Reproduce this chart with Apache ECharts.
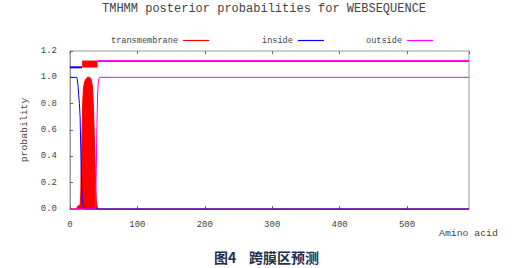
<!DOCTYPE html>
<html>
<head>
<meta charset="utf-8">
<script src="https://cdn.jsdelivr.net/npm/echarts@6/dist/echarts.min.js"></script>
<style>html,body{margin:0;padding:0;background:#fff}#c{width:514px;height:268px}</style>
</head>
<body>
<div id="c"></div>
<script>
const seqLength = 592;
const xTicks = [0, 100, 200, 300, 400, 500];
// posterior probabilities [residue, probability]
const transmembrane = [[0,0],[10,0],[11,0.02],[15,0.03],[16,0.12],[17,0.38],[18,0.62],[19,0.82],[20,0.92],[22,0.97],[24,0.99],[26,1.0],[29,1.0],[31,0.99],[33,0.94],[34,0.87],[35,0.74],[36,0.56],[37,0.38],[38,0.18],[39,0.06],[40,0.02],[41,0],[592,0]];
const inside = [[0,1.0],[10,1.0],[11,0.98],[12,0.93],[13,0.86],[14,0.8],[15,0.7],[16,0.45],[17,0.2],[18,0.08],[19,0.04],[21,0.01],[23,0],[592,0]];
const outside = [[0,0],[37,0],[38,0.05],[39,0.3],[40,0.65],[41,0.88],[42,0.96],[43,0.99],[44,1.0],[592,1.0]];
// predicted topology bars at the top
const insideBar = [[0,1.076],[18,1.076]];
const tmBar = [[18,1.101],[41,1.101]];
const outsideBar = [[41,1.124],[592,1.124]];

const RED = '#ff0000', BLUE = '#0000ff', MAG = '#ff00ff';
const mono = 'Liberation Mono';
const chart = echarts.init(document.getElementById('c'), null, {renderer:'svg'});
function lg(name, left) {
  return {data:[name], left:left, top:36, padding:0, align:'right', icon:'rect', itemWidth:26, itemHeight:1.2,
    selectedMode:false, textStyle:{fontFamily:mono, fontSize:8.6, color:'#444'}};
}
function ln(name, data, color, width, z, area) {
  const s = {name:name, type:'line', data:data, symbol:'none', showSymbol:false, smooth:false, clip:false,
    color:color, lineStyle:{width:width, color:color, cap:'butt'}, z:z};
  if (area) s.areaStyle = {color:color, opacity:1};
  return s;
}
chart.setOption({
  animation:false,
  title:[
    {text:'TMHMM posterior probabilities for WEBSEQUENCE', left:102, top:3, padding:0,
     textStyle:{fontFamily:mono, fontSize:12, fontWeight:'normal', color:'#444'}},
    {text:'图4    跨膜区预测', left:214, top:250, padding:0,
     textStyle:{fontFamily:'Noto Sans CJK SC', fontSize:14, fontWeight:'bold', color:'#1f2f4f'}}
  ],
  legend:[lg('transmembrane',111), lg('inside',262), lg('outside',366)],
  grid:{left:70, right:45, top:51, bottom:59, show:true, borderColor:'#999', borderWidth:1},
  xAxis:[{
    type:'value', min:0, max:seqLength, interval:100,
    name:'Amino acid', nameLocation:'end', nameGap:-30,
    nameTextStyle:{fontFamily:mono, fontSize:9.8, color:'#444', align:'left', verticalAlign:'top', padding:[19,0,0,0]},
    axisLine:{show:true, lineStyle:{color:'#999'}},
    axisTick:{show:true, inside:true, length:3, lineStyle:{color:'#666'}},
    axisLabel:{fontFamily:mono, fontSize:9, color:'#444', margin:11, showMaxLabel:false,
      formatter:v=>xTicks.includes(v)?String(v):''},
    splitLine:{show:false}
  },{
    type:'value', position:'top', min:0, max:seqLength, interval:100,
    axisLine:{show:false}, axisTick:{show:true, inside:true, length:3, lineStyle:{color:'#666'}},
    axisLabel:{show:false}, splitLine:{show:false}
  }],
  yAxis:{
    type:'value', min:0, max:1.2, interval:0.2,
    name:'probability', nameLocation:'middle', nameGap:28,
    nameTextStyle:{fontFamily:mono, fontSize:9.8, color:'#444'},
    axisLine:{show:true, lineStyle:{color:'#999'}},
    axisTick:{show:true, inside:true, length:3, lineStyle:{color:'#666'}},
    axisLabel:{fontFamily:mono, fontSize:9, color:'#444', margin:13, formatter:v=>v.toFixed(1)},
    splitLine:{show:false}
  },
  series:[
    ln('transmembrane', transmembrane, RED, 1, 2, true),
    ln('inside', inside, BLUE, 1, 3),
    ln('outside', outside, MAG, 1, 4),
    ln('insideBar', insideBar, BLUE, 2, 5),
    ln('tmBar', tmBar, RED, 7, 5),
    ln('outsideBar', outsideBar, MAG, 2, 5)
  ]
});
</script>
</body>
</html>
